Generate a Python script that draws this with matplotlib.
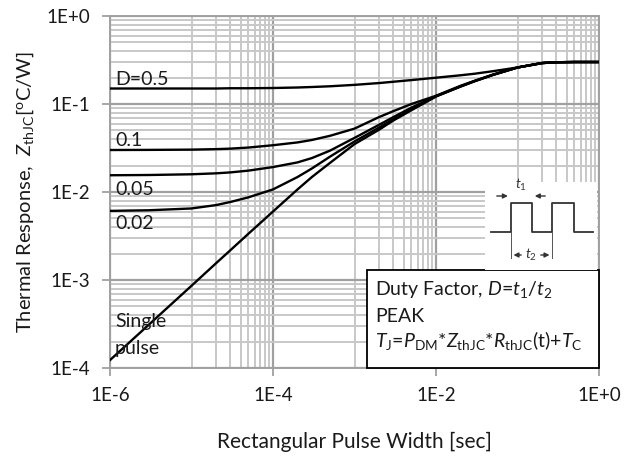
import matplotlib
matplotlib.use("Agg")
import matplotlib.pyplot as plt
from matplotlib.ticker import FixedLocator, NullFormatter
from matplotlib.patches import Rectangle

plt.rcParams['font.family'] = ['Lato', 'DejaVu Sans']
plt.rcParams['mathtext.fontset'] = 'custom'
plt.rcParams['mathtext.rm'] = 'Lato'
plt.rcParams['mathtext.it'] = 'Lato:italic'

# pulse width [s]
t = [1e-6, 3e-6, 1e-5, 2e-5, 3e-5, 5e-5, 1e-4, 2e-4, 3e-4, 5e-4, 1e-3, 2e-3,
     3e-3, 5e-3, 1e-2, 2e-2, 3e-2, 5e-2, 0.1, 0.2, 0.3, 0.5, 1.0]

# thermal response Z_thJC [degC/W]
z_d05 = [0.150, 0.150, 0.150, 0.150, 0.151, 0.151, 0.152, 0.154, 0.156, 0.159,
         0.165, 0.173, 0.179, 0.187, 0.199, 0.212, 0.221, 0.236, 0.260, 0.292,
         0.298, 0.300, 0.300]
z_d01 = [0.0300, 0.0301, 0.0303, 0.0307, 0.0311, 0.0320, 0.0340, 0.0366, 0.0390,
         0.0435, 0.0525, 0.071, 0.083, 0.100, 0.124, 0.161, 0.184, 0.216, 0.260,
         0.292, 0.298, 0.300, 0.300]
z_d005 = [0.0155, 0.0156, 0.0159, 0.0163, 0.0167, 0.0175, 0.0192, 0.0217, 0.0243,
          0.0295, 0.0412, 0.058, 0.071, 0.091, 0.123, 0.159, 0.183, 0.215, 0.260,
          0.292, 0.298, 0.300, 0.300]
z_d002 = [0.0061, 0.0062, 0.0065, 0.0071, 0.0077, 0.0087, 0.0107, 0.0148, 0.0185,
          0.0252, 0.0375, 0.054, 0.067, 0.087, 0.1225, 0.158, 0.182, 0.214, 0.260,
          0.292, 0.298, 0.300, 0.300]
z_single = [1.23e-4, 3.11e-4, 8.6e-4, 1.55e-3, 2.18e-3, 3.36e-3, 6.0e-3, 1.07e-2,
            1.48e-2, 2.14e-2, 3.5e-2, 5.1e-2, 6.5e-2, 8.5e-2, 0.1216, 0.158, 0.182,
            0.214, 0.260, 0.292, 0.298, 0.300, 0.300]

x_major = [1e-6, 1e-4, 1e-2, 1.0]
x_labels = ['1E-6', '1E-4', '1E-2', '1E+0']
x_minor = [k * d for d in (1e-5, 1e-3, 1e-1) for k in range(1, 10)]
y_major = [1e-4, 1e-3, 1e-2, 1e-1, 1.0]
y_labels = ['1E-4', '1E-3', '1E-2', '1E-1', '1E+0']
y_minor = [k * d for d in (1e-4, 1e-3, 1e-2, 1e-1) for k in range(2, 10)]

minor_c = '#c8c8c8'
major_c = '#a0a0a0'

fig = plt.figure(figsize=(6.24, 4.59), dpi=100)
ax = fig.add_axes([110 / 624, 1 - 368 / 459, 489 / 624, 352 / 459])
ax.set_xscale('log')
ax.set_yscale('log')
ax.set_xlim(1e-6, 1.0)
ax.set_ylim(1e-4, 1.0)

ax.xaxis.set_major_locator(FixedLocator(x_major))
ax.xaxis.set_minor_locator(FixedLocator(x_minor))
ax.yaxis.set_major_locator(FixedLocator(y_major))
ax.yaxis.set_minor_locator(FixedLocator(y_minor))
ax.set_xticklabels(x_labels)
ax.set_yticklabels(y_labels)
ax.xaxis.set_minor_formatter(NullFormatter())
ax.yaxis.set_minor_formatter(NullFormatter())

ax.grid(which='minor', color=minor_c, linewidth=1.4)
ax.grid(which='major', color=major_c, linewidth=1.6)
ax.set_axisbelow(True)
ax.tick_params(which='major', length=6, width=1.3, color=major_c,
               labelsize=13.5, pad=8, labelcolor='#1a1a1a')
ax.tick_params(which='minor', length=0)
for s in ax.spines.values():
    s.set_color(major_c)
    s.set_linewidth(1.4)

for z in (z_d05, z_d01, z_d005, z_d002, z_single):
    ax.plot(t, z, color='black', linewidth=1.7, zorder=3)

lab = dict(fontsize=14, color='#1a1a1a', zorder=4, va='baseline')
ax.text(1.15e-6, 0.165, 'D=0.5', **lab)
ax.text(1.15e-6, 0.033, '0.1', **lab)
ax.text(1.15e-6, 0.0093, '0.05', **lab)
ax.text(1.15e-6, 0.0038, '0.02', **lab)
ax.text(1.15e-6, 2.95e-4, 'Single', **lab)
ax.text(1.15e-6, 1.45e-4, 'pulse', **lab)

ax.set_xlabel('Rectangular Pulse Width [sec]', fontsize=15, labelpad=20,
              color='#1a1a1a')
ax.set_ylabel(r'Thermal Response,  $Z_\mathrm{thJC}$[$^\mathrm{o}$C/W]',
              fontsize=14.5, labelpad=8, color='#1a1a1a')

# text box
ax.add_patch(Rectangle((257 / 489, 0), 232 / 489, 98 / 352, transform=ax.transAxes,
                       facecolor='white', edgecolor='black', linewidth=1.3,
                       zorder=5, clip_on=False))
box_x = 265 / 489
box_lines = ['Duty Factor, $D$=$t_1$/$t_2$', 'PEAK',
             r'$T_\mathrm{J}$=$P_\mathrm{DM}$*$Z_\mathrm{thJC}$*$R_\mathrm{thJC}$(t)+$T_\mathrm{C}$']
box_y = [73 / 352, 46 / 352, 21 / 352]
for s, yy in zip(box_lines, box_y):
    ax.text(box_x, yy, s, transform=ax.transAxes, fontsize=14,
            color='#1a1a1a', va='baseline', zorder=6)

# pulse sketch
ins = fig.add_axes([485 / 624, 1 - 270 / 459, 112 / 624, 88 / 459])
ins.set_xlim(485, 597)
ins.set_ylim(270, 182)
ins.axis('off')
ins.add_patch(Rectangle((485, 182), 112, 88, facecolor='white', edgecolor='none'))
ins.plot([491, 510.7, 510.7, 532, 532, 552.3, 552.3, 573.7, 573.7, 593],
         [231.7, 231.7, 203.3, 203.3, 231.7, 231.7, 202.5, 202.5, 231.7, 231.7],
         color='#333333', linewidth=1.3)
ins.plot([510.7, 510.7], [231.7, 258], color='#555555', linewidth=0.7)
ins.plot([552.3, 552.3], [231.7, 258], color='#555555', linewidth=0.7)
arr = dict(arrowstyle='-|>', color='#333333', linewidth=1.0, mutation_scale=7)
ins.annotate('', xy=(510.7, 196), xytext=(494, 196), arrowprops=arr)
ins.annotate('', xy=(532, 196), xytext=(548, 196), arrowprops=arr)
ins.text(521, 193, '$t_1$', ha='center', va='bottom', fontsize=10, color='#333333')
ins.annotate('', xy=(510.7, 255), xytext=(524, 255), arrowprops=arr)
ins.annotate('', xy=(552.3, 255), xytext=(538, 255), arrowprops=arr)
ins.text(531, 255, '$t_2$', ha='center', va='center', fontsize=10, color='#333333')

fig.savefig('out.png', dpi=100)
